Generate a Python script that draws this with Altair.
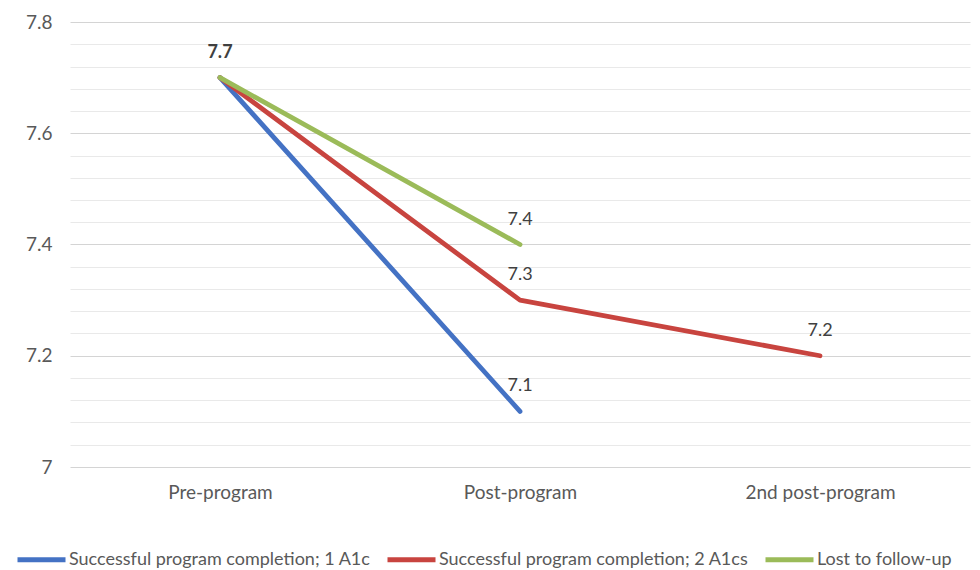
import altair as alt
import pandas as pd

stages = ["Pre-program", "Post-program", "2nd post-program"]
series_names = [
    "Successful program completion; 1 A1c",
    "Successful program completion; 2 A1cs",
    "Lost to follow-up",
]
blue_vals = [7.7, 7.1, None]
red_vals = [7.7, 7.3, 7.2]
green_vals = [7.7, 7.4, None]
colors = ["#4472C4", "#C8443F", "#9BBB59"]

rows = []
for name, vals in zip(series_names, [blue_vals, red_vals, green_vals]):
    for st, v in zip(stages, vals):
        if v is not None:
            rows.append({"stage": st, "series": name, "value": v})
df = pd.DataFrame(rows)

# data labels (one label per distinct point)
label_stages = ["Pre-program", "Post-program", "Post-program", "Post-program", "2nd post-program"]
label_values = [7.7, 7.4, 7.3, 7.1, 7.2]
label_bold = [True, False, False, False, False]
ldf = pd.DataFrame({"stage": label_stages, "value": label_values,
                    "label": [f"{v:g}" for v in label_values], "bold": label_bold})

grid_values = [round(7 + 0.04 * i, 2) for i in range(21)]
major_test = "abs(round(datum.value*5) - datum.value*5) < 0.001"

FONT = "Lato"
xscale = alt.Scale(type="point", padding=0.5, domain=stages)

x_enc = alt.X(
    "stage:N",
    sort=stages,
    scale=xscale,
    axis=alt.Axis(
        title=None, labelAngle=0, domain=False, ticks=False, grid=False,
        labelFont=FONT, labelFontSize=19, labelColor="#595959", labelPadding=16,
    ),
)
y_enc = alt.Y(
    "value:Q",
    scale=alt.Scale(domain=[7, 7.8], nice=False, zero=False),
    axis=alt.Axis(
        title=None, values=grid_values, tickCount=30, format="~g",
        labelExpr=f"{major_test} ? datum.label : ''", labelOverlap=False,
        domain=False, ticks=False, labelPadding=18,
        labelFont=FONT, labelFontSize=19, labelColor="#595959",
        gridColor={"condition": {"test": major_test, "value": "#d4d4d4"}, "value": "#e9e9e9"},
        gridWidth=1,
    ),
)

lines = alt.Chart(df).mark_line(strokeWidth=4.8, strokeCap="round", strokeJoin="round").encode(
    x=x_enc,
    y=y_enc,
    color=alt.Color(
        "series:N",
        scale=alt.Scale(domain=series_names, range=colors),
        legend=alt.Legend(
            title=None, orient="none", direction="horizontal",
            legendX=-55, legendY=511,
            symbolType="stroke", symbolSize=2304, symbolStrokeWidth=5,
            labelFont=FONT, labelFontSize=18, labelColor="#595959",
            labelOffset=1, columnPadding=6, labelLimit=400,
        ),
    ),
    order=alt.Order("stage_order:Q"),
).transform_calculate(
    stage_order="indexof(['Pre-program','Post-program','2nd post-program'], datum.stage)"
)

base_labels = alt.Chart(ldf).encode(
    x=alt.X("stage:N", sort=stages, scale=xscale),
    y=alt.Y("value:Q"),
    text="label:N",
)
labels_bold = base_labels.transform_filter("datum.bold").mark_text(
    font=FONT, fontSize=18, color="#404040", dy=-25, baseline="middle", align="center",
    fontWeight="bold",
)
labels_norm = base_labels.transform_filter("!datum.bold").mark_text(
    font=FONT, fontSize=18, color="#404040", dy=-25, baseline="middle", align="center",
)

chart = alt.layer(lines, labels_bold, labels_norm).properties(
    width=900, height=445,
    autosize=alt.AutoSizeParams(type="none"),
    padding={"left": 70, "top": 22, "right": 10, "bottom": 103},
    background="white",
).configure_view(stroke=None)

chart.save("out.html", embed_options={"renderer": "svg", "actions": False})
